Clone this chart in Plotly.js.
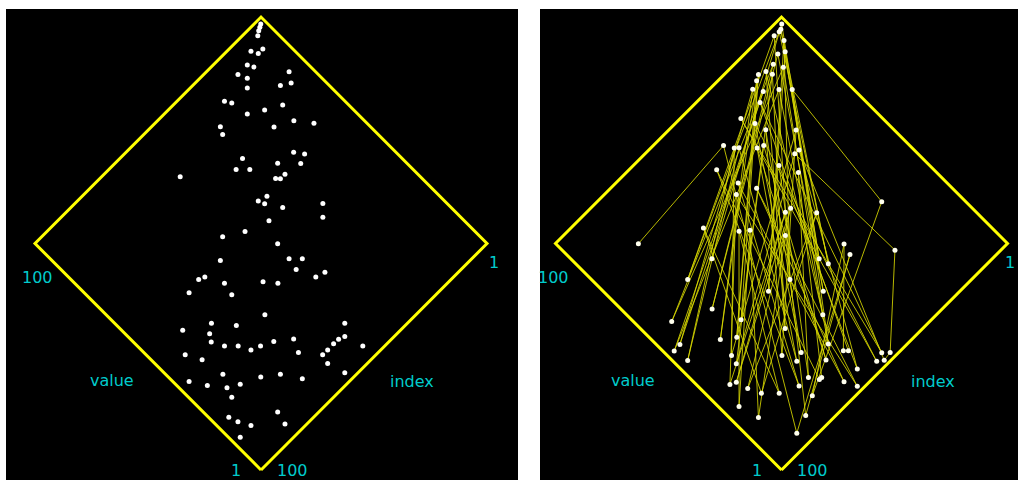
<!DOCTYPE html>
<html><head><meta charset="utf-8">
<script src="https://cdn.plot.ly/plotly-3.0.1.min.js"></script>
<style>html,body{margin:0;padding:0;background:#fff;}#chart{width:1018px;height:480px;}</style>
</head><body><div id="chart"></div>
<script>
// Left panel: scattered points (index, value)
const leftIndex = [2.6,3.5,4.5,5.8,10.7,9.6,7.6,14.5,13.5,18.6,17.4,19.5,6.8,8.8,11.7,27.4,26.2,20.5,15.5,25.2,16.5,12.6,33.9,35.1,22.2,23.4,21.4,36.0,29.3,24.3,39.8,36.8,53.6,30.1,33.1,32.1,38.9,41.8,41.0,37.9,28.2,31.2,43.8,57.4,51.4,46.9,63.1,47.7,44.8,48.5,72.0,70.1,67.2,58.4,55.5,45.8,42.8,77.0,68.1,65.2,78.8,73.8,86.6,81.5,82.9,80.9,77.9,76.0,73.0,69.1,64.2,66.1,91.4,88.8,49.6,52.5,54.4,56.5,59.2,61.3,62.1,50.6,87.4,79.7,74.8,71.0,60.4,96.4,93.3,89.5,85.8,90.5,83.7,84.7,95.5,94.5,92.5,97.4];
const leftValue = [98.5,98.0,97.5,96.6,94.7,92.6,92.6,92.5,90.6,92.5,89.6,87.5,81.9,79.0,80.8,89.6,87.6,78.9,76.0,81.8,70.1,65.2,84.9,82.7,73.1,63.3,60.5,73.1,64.4,59.3,72.1,69.1,82.8,60.4,61.5,60.4,59.5,60.4,58.4,53.6,45.7,42.7,53.7,60.4,56.6,46.8,55.7,41.0,38.1,37.1,56.3,55.5,49.8,41.7,38.1,31.2,30.2,55.5,45.7,34.1,43.9,38.0,48.7,42.0,39.9,36.1,33.1,29.4,28.2,26.3,22.5,18.5,42.8,38.0,14.7,11.8,12.6,12.7,12.6,12.7,9.7,5.8,30.3,21.4,17.7,11.9,3.9,36.1,31.2,26.4,24.3,23.3,10.0,5.8,19.6,16.6,12.9,12.7];

// Right panel: points joined in data order (index, value)
const rightIndex = [69.1,2.5,45.6,3.8,44.7,4.7,78.9,6.7,56.5,5.6,63.8,7.8,51.8,9.9,80.0,13.1,91.6,11.6,57.0,16.3,68.3,15.5,76.0,18.6,80.8,20.4,84.9,23.1,94.8,21.3,97.5,17.4,62.2,14.5,19.4,77.0,36.9,60.4,59.3,24.4,52.4,32.1,55.4,30.1,70.0,29.1,74.9,22.5,85.9,40.0,96.6,38.9,72.9,35.0,66.2,33.0,86.7,28.0,27.1,50.5,53.5,26.2,61.3,34.0,73.9,31.3,71.0,71.9,48.6,77.8,46.8,67.0,43.9,65.1,49.7,92.6,42.8,90.7,40.8,89.6,36.1,87.6,64.2,83.7,57.1,95.4,54.5,93.6,47.9,82.8,37.9,88.6,41.8,81.9];
const rightValue = [62.4,98.4,38.9,97.5,35.8,97.3,63.2,97.5,40.8,94.3,42.9,91.6,30.9,92.7,51.4,91.5,57.5,88.6,25.9,91.5,31.1,89.5,42.7,92.5,39.8,91.5,42.9,90.5,50.7,87.7,50.5,84.7,18.3,81.8,37.7,10.5,36.7,13.5,12.4,86.0,4.7,86.7,3.9,82.5,22.4,78.8,25.9,72.1,37.0,81.7,45.5,80.7,21.4,76.7,15.3,75.8,34.1,67.2,24.2,2.9,2.5,67.1,6.5,68.1,15.3,62.3,12.4,12.5,80.8,15.5,73.2,6.6,68.0,2.7,71.1,31.0,56.5,30.1,56.2,26.2,49.5,22.2,71.0,18.3,62.5,24.2,60.3,17.5,51.4,7.6,33.1,5.7,84.6,81.8];

// Frame corners (index, value) and axis labels
const frameIndex = [100, 1, 1, 100, 100];
const frameValue = [1, 1, 100, 100, 1];
const axisNames = ['value', 'index'];
const axisEnds = ['1', '100'];

function tx(i, v) { const u = (100 - i) / 99, w = (v - 1) / 99; return [u - w, u + w]; }
function proj(I, V) { const X = [], Y = []; for (let k = 0; k < I.length; k++) { const p = tx(I[k], V[k]); X.push(p[0]); Y.push(p[1]); } return {X, Y}; }

const L = proj(leftIndex, leftValue), R = proj(rightIndex, rightValue), F = proj(frameIndex, frameValue);
const YELLOW = '#ffff00', CYAN = '#00cccc';

const traces = [
  {x: F.X, y: F.Y, xaxis: 'x', yaxis: 'y', mode: 'lines', line: {color: YELLOW, width: 3}, hoverinfo: 'skip'},
  {x: L.X, y: L.Y, xaxis: 'x', yaxis: 'y', mode: 'markers', marker: {color: '#ffffff', size: 5}, hoverinfo: 'skip'},
  {x: F.X, y: F.Y, xaxis: 'x2', yaxis: 'y2', mode: 'lines', line: {color: YELLOW, width: 3}, hoverinfo: 'skip'},
  {x: R.X, y: R.Y, xaxis: 'x2', yaxis: 'y2', mode: 'lines+markers', line: {color: 'rgba(215,215,0,0.85)', width: 1}, marker: {color: '#ffffee', size: 5}, hoverinfo: 'skip'}
];

const W = 1018, H = 480;
function ann(px, py, text) { return {xref: 'paper', yref: 'paper', x: px / W, y: 1 - py / H, text: text, showarrow: false, xanchor: 'center', yanchor: 'middle', font: {family: 'DejaVu Sans, sans-serif', size: 16, color: CYAN}}; }
const annotations = [];
[[0, 37, 494], [520.5, 553, 1010]].forEach(function (c) {
  const o = c[0];
  annotations.push(ann(c[1], 277, '100'));
  annotations.push(ann(c[2], 262, '1'));
  annotations.push(ann(112 + o, 380, axisNames[0]));
  annotations.push(ann(412 + o, 381, axisNames[1]));
  annotations.push(ann(236 + o, 470, axisEnds[0]));
  annotations.push(ann(292 + o, 470, axisEnds[1]));
});

const ax = {visible: false, showgrid: false, zeroline: false, fixedrange: true};
const yr = [(470 - 480) / 226.5, (470 - 9) / 226.5];
const layout = {
  width: W, height: H, margin: {l: 0, r: 0, t: 0, b: 0}, showlegend: false,
  paper_bgcolor: '#ffffff', plot_bgcolor: '#000000',
  xaxis: Object.assign({}, ax, {domain: [6 / W, 518 / W], range: [(6 - 261) / 226, (518 - 261) / 226]}),
  yaxis: Object.assign({}, ax, {domain: [0, 1 - 9 / H], range: yr, anchor: 'x'}),
  xaxis2: Object.assign({}, ax, {domain: [540 / W, 1], range: [(540 - 781.5) / 226, (1018 - 781.5) / 226], anchor: 'y2'}),
  yaxis2: Object.assign({}, ax, {domain: [0, 1 - 9 / H], range: yr, anchor: 'x2'}),
  annotations: annotations
};
Plotly.newPlot('chart', traces, layout, {staticPlot: true, displayModeBar: false});
</script></body></html>
